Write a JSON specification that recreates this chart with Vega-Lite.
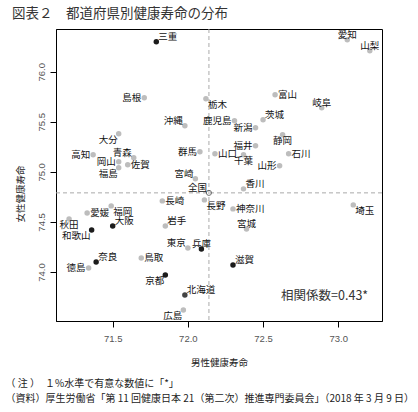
{
  "$schema": "https://vega.github.io/schema/vega-lite/v6.json",
  "width": 326,
  "height": 292,
  "autosize": {"type": "none"},
  "padding": {"left": 56, "top": 29, "right": 36, "bottom": 91},
  "title": {"text": "図表２　都道府県別健康寿命の分布", "anchor": "start", "frame": "group", "dx": -44, "dy": 13, "offset": 7, "baseline": "bottom", "fontSize": 13.5, "fontWeight": "normal", "font": "Noto Sans CJK JP", "color": "#333333"},
  "config": {"view": {"stroke": "#000000", "strokeWidth": 1}, "axis": {"grid": false}, "text": {"font": "Noto Sans CJK JP"}},
  "resolve": {"axis": {"x": "independent", "y": "independent"}},
  "datasets": {
    "pref": [
      {"pref": "三重", "male": 71.79, "female": 76.30, "group": "近畿"},
      {"pref": "島根", "male": 71.71, "female": 75.74, "group": "その他"},
      {"pref": "栃木", "male": 72.12, "female": 75.73, "group": "その他"},
      {"pref": "沖縄", "male": 71.98, "female": 75.46, "group": "その他"},
      {"pref": "大分", "male": 71.54, "female": 75.38, "group": "その他"},
      {"pref": "高知", "male": 71.37, "female": 75.17, "group": "その他"},
      {"pref": "青森", "male": 71.64, "female": 75.14, "group": "その他"},
      {"pref": "群馬", "male": 72.08, "female": 75.20, "group": "その他"},
      {"pref": "山口", "male": 72.18, "female": 75.18, "group": "その他"},
      {"pref": "岡山", "male": 71.54, "female": 75.10, "group": "その他"},
      {"pref": "佐賀", "male": 71.60, "female": 75.07, "group": "その他"},
      {"pref": "福島", "male": 71.54, "female": 75.04, "group": "その他"},
      {"pref": "宮崎", "male": 72.05, "female": 74.93, "group": "その他"},
      {"pref": "全国", "male": 72.14, "female": 74.79, "group": "全国"},
      {"pref": "愛知", "male": 73.06, "female": 76.32, "group": "その他"},
      {"pref": "山梨", "male": 73.21, "female": 76.21, "group": "その他"},
      {"pref": "富山", "male": 72.58, "female": 75.77, "group": "その他"},
      {"pref": "岐阜", "male": 72.89, "female": 75.64, "group": "その他"},
      {"pref": "茨城", "male": 72.50, "female": 75.52, "group": "その他"},
      {"pref": "鹿児島", "male": 72.31, "female": 75.51, "group": "その他"},
      {"pref": "新潟", "male": 72.45, "female": 75.44, "group": "その他"},
      {"pref": "静岡", "male": 72.63, "female": 75.37, "group": "その他"},
      {"pref": "福井", "male": 72.45, "female": 75.26, "group": "その他"},
      {"pref": "石川", "male": 72.67, "female": 75.18, "group": "その他"},
      {"pref": "千葉", "male": 72.37, "female": 75.17, "group": "その他"},
      {"pref": "山形", "male": 72.61, "female": 75.06, "group": "その他"},
      {"pref": "香川", "male": 72.37, "female": 74.83, "group": "その他"},
      {"pref": "長崎", "male": 71.83, "female": 74.71, "group": "その他"},
      {"pref": "長野", "male": 72.11, "female": 74.72, "group": "その他"},
      {"pref": "愛媛", "male": 71.33, "female": 74.59, "group": "その他"},
      {"pref": "福岡", "male": 71.49, "female": 74.66, "group": "その他"},
      {"pref": "秋田", "male": 71.21, "female": 74.53, "group": "その他"},
      {"pref": "大阪", "male": 71.50, "female": 74.46, "group": "近畿"},
      {"pref": "岩手", "male": 71.85, "female": 74.46, "group": "その他"},
      {"pref": "和歌山", "male": 71.36, "female": 74.42, "group": "近畿"},
      {"pref": "東京", "male": 72.00, "female": 74.24, "group": "その他"},
      {"pref": "兵庫", "male": 72.09, "female": 74.23, "group": "近畿"},
      {"pref": "奈良", "male": 71.39, "female": 74.10, "group": "近畿"},
      {"pref": "鳥取", "male": 71.69, "female": 74.14, "group": "その他"},
      {"pref": "徳島", "male": 71.34, "female": 74.04, "group": "その他"},
      {"pref": "京都", "male": 71.85, "female": 73.97, "group": "近畿"},
      {"pref": "北海道", "male": 71.98, "female": 73.77, "group": "北海道"},
      {"pref": "広島", "male": 71.97, "female": 73.62, "group": "その他"},
      {"pref": "神奈川", "male": 72.30, "female": 74.63, "group": "その他"},
      {"pref": "埼玉", "male": 73.10, "female": 74.67, "group": "その他"},
      {"pref": "宮城", "male": 72.39, "female": 74.43, "group": "その他"},
      {"pref": "滋賀", "male": 72.30, "female": 74.07, "group": "近畿"}
    ]
  },
  "data": {"name": "pref"},
  "layer": [
    {
      "transform": [{"filter": "datum.pref === '全国'"}],
      "mark": {"type": "rule", "color": "#aaaaaa", "strokeDash": [4, 3], "strokeWidth": 1},
      "encoding": {
        "x": {"field": "male", "type": "quantitative", "scale": {"domain": [71.123, 73.291], "nice": false, "zero": false},
          "axis": {"orient": "bottom", "labels": false, "ticks": false, "domain": false,
            "title": ["　（ 注 ）　１%水準で有意な数値に「*」", "（資料）厚生労働省「第 11 回健康日本 21（第二次）推進専門委員会」（2018 年 3 月 9 日）"],
            "titleX": -51, "titleY": 65.5, "titleAlign": "left", "titleBaseline": "alphabetic", "titleAngle": 0, "titleLineHeight": 15,
            "titleFontSize": 10, "titleFontWeight": "normal", "titleFont": "Noto Sans CJK JP", "titleColor": "#222222"}}
      }
    },
    {
      "transform": [{"filter": "datum.pref === '全国'"}],
      "mark": {"type": "rule", "color": "#aaaaaa", "strokeDash": [4, 3], "strokeWidth": 1},
      "encoding": {
        "y": {"field": "female", "type": "quantitative", "scale": {"domain": [73.51, 76.427], "nice": false, "zero": false}, "axis": null}
      }
    },
    {
      "transform": [{"filter": "datum.pref !== '全国'"}],
      "mark": {"type": "circle", "size": 30, "opacity": 1},
      "encoding": {
        "x": {"field": "male", "type": "quantitative", "scale": {"domain": [71.123, 73.291], "nice": false, "zero": false},
          "axis": {"orient": "bottom", "values": [71.5, 72, 72.5, 73], "format": ".1f", "tickSize": 6, "tickColor": "#000000", "domainColor": "#000000",
            "labelPadding": 6, "labelFontSize": 9.5, "labelColor": "#555555", "labelFont": "Liberation Sans",
            "title": "男性健康寿命", "titleFontSize": 9.5, "titleFontWeight": "normal", "titleFont": "Noto Sans CJK JP", "titleColor": "#222222",
            "titleY": 41, "titleBaseline": "middle"}},
        "y": {"field": "female", "type": "quantitative", "scale": {"domain": [73.51, 76.427], "nice": false, "zero": false},
          "axis": {"orient": "left", "values": [74, 74.5, 75, 75.5, 76], "format": ".1f", "tickSize": 6, "tickColor": "#000000", "domainColor": "#000000",
            "labelAngle": 270, "labelAlign": "center", "labelBaseline": "bottom", "labelPadding": 4, "labelFontSize": 9.5, "labelColor": "#555555", "labelFont": "Liberation Sans",
            "title": "女性健康寿命", "titleX": -36, "titleY": 164.5, "titleAngle": 270, "titleAlign": "center", "titleBaseline": "middle",
            "titleFontSize": 9.5, "titleFontWeight": "normal", "titleFont": "Noto Sans CJK JP", "titleColor": "#222222"}},
        "color": {"field": "group", "type": "nominal", "scale": {"domain": ["その他", "近畿", "北海道"], "range": ["#bdbdbd", "#1c1c1c", "#444444"]}, "legend": null}
      }
    },
    {
      "transform": [{"filter": "datum.pref === '全国'"}],
      "mark": {"type": "point", "filled": false, "size": 26, "stroke": "#333333", "strokeWidth": 1},
      "encoding": {
        "x": {"field": "male", "type": "quantitative", "axis": null},
        "y": {"field": "female", "type": "quantitative", "axis": null}
      }
    },
    {
      "transform": [{"filter": {"field": "pref", "oneOf": ["佐賀", "山口", "富山", "石川", "長崎", "愛媛", "鳥取", "神奈川"]}}],
      "mark": {"type": "text", "align": "left", "baseline": "middle", "dx": 3, "dy": 0, "fontSize": 9.5, "color": "#111111"},
      "encoding": {"x": {"field": "male", "type": "quantitative", "axis": null}, "y": {"field": "female", "type": "quantitative", "axis": null}, "text": {"field": "pref"}}
    },
    {
      "transform": [{"filter": {"field": "pref", "oneOf": ["三重", "茨城", "香川", "大阪", "岩手", "奈良", "北海道", "滋賀"]}}],
      "mark": {"type": "text", "align": "left", "baseline": "middle", "dx": 2, "dy": -5, "fontSize": 9.5, "color": "#111111"},
      "encoding": {"x": {"field": "male", "type": "quantitative", "axis": null}, "y": {"field": "female", "type": "quantitative", "axis": null}, "text": {"field": "pref"}}
    },
    {
      "transform": [{"filter": {"field": "pref", "oneOf": ["栃木", "長野", "福岡", "埼玉"]}}],
      "mark": {"type": "text", "align": "left", "baseline": "middle", "dx": 2, "dy": 6, "fontSize": 9.5, "color": "#111111"},
      "encoding": {"x": {"field": "male", "type": "quantitative", "axis": null}, "y": {"field": "female", "type": "quantitative", "axis": null}, "text": {"field": "pref"}}
    },
    {
      "transform": [{"filter": {"field": "pref", "oneOf": ["島根", "高知", "岡山", "群馬", "鹿児島", "新潟", "福井", "山形", "徳島"]}}],
      "mark": {"type": "text", "align": "right", "baseline": "middle", "dx": -3, "dy": 0, "fontSize": 9.5, "color": "#111111"},
      "encoding": {"x": {"field": "male", "type": "quantitative", "axis": null}, "y": {"field": "female", "type": "quantitative", "axis": null}, "text": {"field": "pref"}}
    },
    {
      "transform": [{"filter": {"field": "pref", "oneOf": ["沖縄", "青森", "宮崎", "全国", "東京"]}}],
      "mark": {"type": "text", "align": "right", "baseline": "middle", "dx": -2, "dy": -5, "fontSize": 9.5, "color": "#111111"},
      "encoding": {"x": {"field": "male", "type": "quantitative", "axis": null}, "y": {"field": "female", "type": "quantitative", "axis": null}, "text": {"field": "pref"}}
    },
    {
      "transform": [{"filter": {"field": "pref", "oneOf": ["大分", "福島", "和歌山", "京都", "広島"]}}],
      "mark": {"type": "text", "align": "right", "baseline": "middle", "dx": -1, "dy": 6, "fontSize": 9.5, "color": "#111111"},
      "encoding": {"x": {"field": "male", "type": "quantitative", "axis": null}, "y": {"field": "female", "type": "quantitative", "axis": null}, "text": {"field": "pref"}}
    },
    {
      "transform": [{"filter": {"field": "pref", "oneOf": ["愛知", "山梨", "岐阜", "宮城", "兵庫"]}}],
      "mark": {"type": "text", "align": "center", "baseline": "middle", "dx": 0, "dy": -5, "fontSize": 9.5, "color": "#111111"},
      "encoding": {"x": {"field": "male", "type": "quantitative", "axis": null}, "y": {"field": "female", "type": "quantitative", "axis": null}, "text": {"field": "pref"}}
    },
    {
      "transform": [{"filter": {"field": "pref", "oneOf": ["静岡", "千葉", "秋田"]}}],
      "mark": {"type": "text", "align": "center", "baseline": "middle", "dx": 0, "dy": 6, "fontSize": 9.5, "color": "#111111"},
      "encoding": {"x": {"field": "male", "type": "quantitative", "axis": null}, "y": {"field": "female", "type": "quantitative", "axis": null}, "text": {"field": "pref"}}
    },
    {
      "data": {"values": [{"label": "相関係数=0.43*"}]},
      "mark": {"type": "text", "align": "left", "baseline": "middle", "fontSize": 12.5, "color": "#333333"},
      "encoding": {
        "x": {"datum": 72.62, "type": "quantitative", "axis": null},
        "y": {"datum": 73.763, "type": "quantitative", "axis": null},
        "text": {"field": "label"}
      }
    }
  ]
}
